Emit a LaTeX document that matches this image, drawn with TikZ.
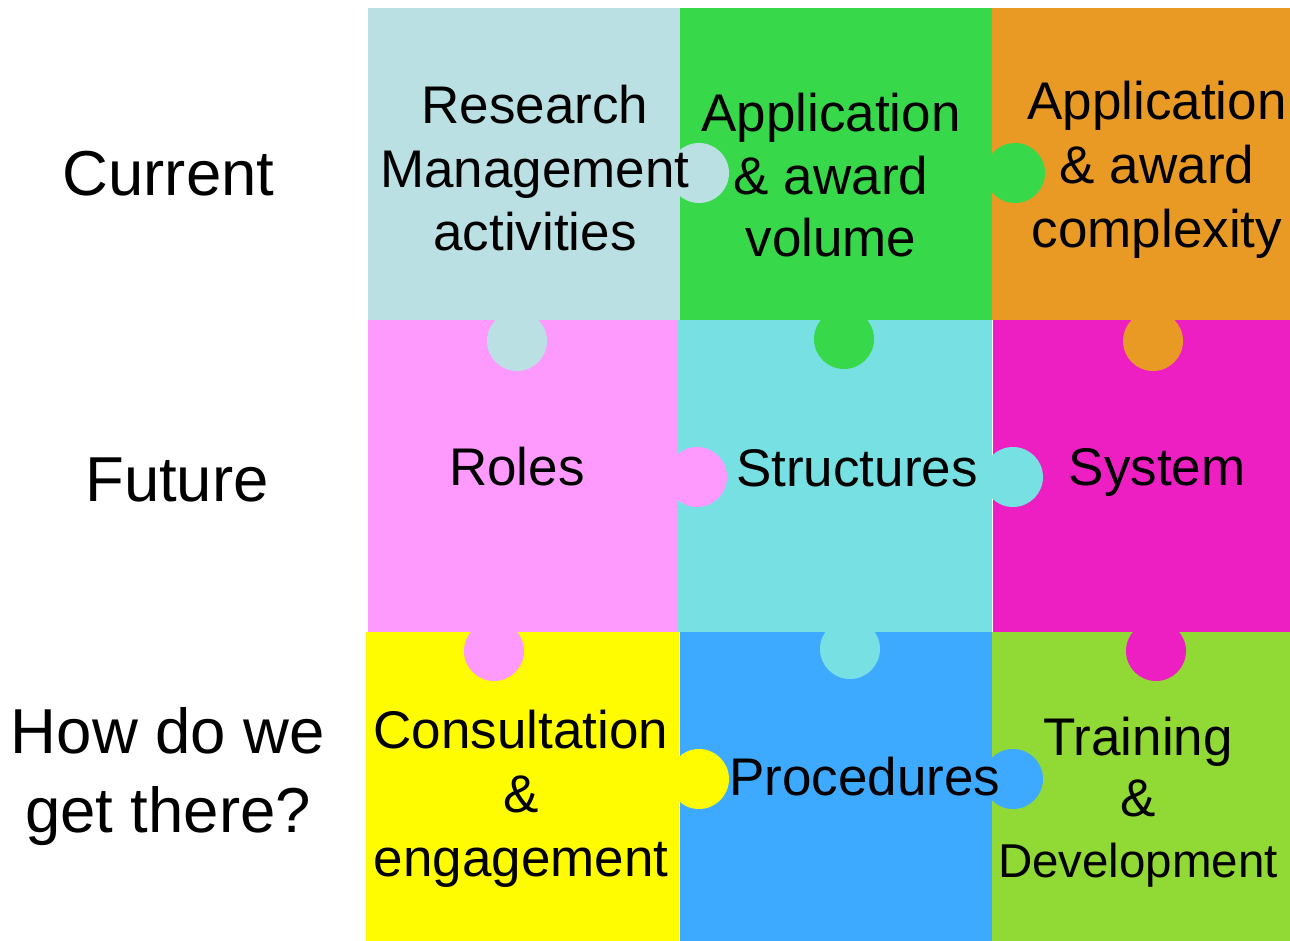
\documentclass[tikz,border=0pt]{standalone}
\usepackage{fontspec}
\setmainfont{Liberation Sans}
\definecolor{cLB}{RGB}{187,224,227}
\definecolor{cGR}{RGB}{55,216,74}
\definecolor{cOR}{RGB}{233,154,37}
\definecolor{cPK}{RGB}{254,153,253}
\definecolor{cCY}{RGB}{119,224,227}
\definecolor{cMG}{RGB}{237,31,195}
\definecolor{cYE}{RGB}{255,251,0}
\definecolor{cBL}{RGB}{61,170,255}
\definecolor{cLM}{RGB}{145,217,53}
\tikzset{
  celltext/.style={anchor=base,inner sep=0pt,font=\fontsize{53}{63.5}\selectfont},
  rowlabel/.style={anchor=base,inner sep=0pt,font=\fontsize{63.5}{79}\selectfont},
}
\newcommand{\knob}[3]{\fill[#1] (#2,#3) circle[radius=30];}
\begin{document}
\begin{tikzpicture}[x=1pt,y=-1pt]
\useasboundingbox (0,0) rectangle (1290,941);
% cells
\fill[cLB] (368,8) rectangle (680,320);
\fill[cGR] (680,8) rectangle (992,320);
\fill[cOR] (992,8) rectangle (1290,320);
\fill[cPK] (368,320) rectangle (678,632);
\fill[cCY] (678,320) rectangle (992,632);
\fill[cMG] (992.8,320) rectangle (1290,632);
\fill[cYE] (366,632) rectangle (679.2,941);
\fill[cBL] (680,632) rectangle (992,941);
\fill[cLM] (992,632) rectangle (1290,941);
% knobs
\knob{cLB}{699}{173}
\knob{cLB}{517}{341}
\knob{cGR}{1015}{173}
\knob{cGR}{844}{339}
\knob{cOR}{1153}{341}
\knob{cPK}{697}{477}
\knob{cPK}{494}{651}
\knob{cCY}{1013}{477}
\knob{cCY}{850}{649}
\knob{cMG}{1156}{651}
\knob{cYE}{699}{779}
\knob{cBL}{1013}{779}
% row labels
\node[rowlabel] (current) at (168.5,196) {Current};
\node[rowlabel] (future) at (177,501) {Future};
\node[rowlabel] (how) at (168,753) {\begin{tabular}[t]{@{}c@{}}How do we\\get there?\end{tabular}};
% cell texts
\node[celltext] (rma) at (535,124) {\begin{tabular}[t]{@{}c@{}}Research\\Management\\activities\end{tabular}};
\node[celltext,font=\fontsize{53}{62.5}\selectfont] (aav) at (831,132) {\begin{tabular}[t]{@{}c@{}}Application\\\& award\\volume\end{tabular}};
\node[celltext,font=\fontsize{53}{64}\selectfont] (aac) at (1157,120) {\begin{tabular}[t]{@{}c@{}}Application\\\& award\\complexity\end{tabular}};
\node[celltext] (roles) at (517,485) {Roles};
\node[celltext] (struct) at (857,486) {Structures};
\node[celltext] (system) at (1157,485) {System};
\node[celltext,font=\fontsize{53}{64}\selectfont] (cons) at (521,748) {\begin{tabular}[t]{@{}c@{}}Consultation\\\&\\engagement\end{tabular}};
\node[celltext] (proc) at (865,795) {Procedures};
\node[celltext,font=\fontsize{53}{61}\selectfont] (train) at (1138,755) {\begin{tabular}[t]{@{}c@{}}Training\\\&\\{\fontsize{47.5}{56}\selectfont Development}\end{tabular}};
\end{tikzpicture}
\end{document}
